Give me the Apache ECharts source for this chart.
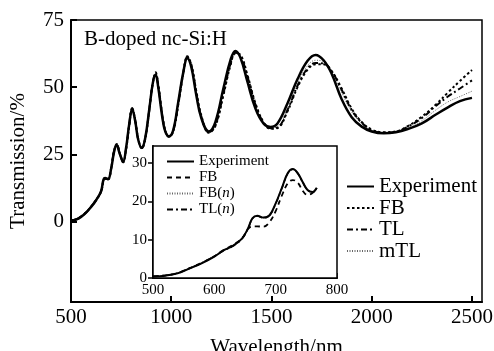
<!DOCTYPE html>
<html>
<head>
<meta charset="utf-8">
<script src="https://cdn.jsdelivr.net/npm/echarts@6/dist/echarts.min.js"></script>
<style>
  html, body { margin: 0; padding: 0; background: #fff; }
  #chart { width: 494px; height: 351px; }
</style>
</head>
<body>
<div id="chart"></div>
<script>
var font = 'Liberation Serif';

// main plot: wavelength (nm) and transmission (%)
var mainLambda = [500, 525, 550, 575, 600, 625, 650, 662, 670, 685, 700, 715, 728, 743, 760, 775, 790, 805, 820, 835,
  853, 870, 890, 908, 922, 935, 955, 970, 988, 1010, 1035, 1060, 1080, 1100, 1125, 1150, 1187, 1220, 1260, 1295,
  1320, 1345, 1380, 1420, 1460, 1495, 1530, 1580, 1630, 1680, 1720, 1760, 1800, 1850, 1900, 1950, 2000, 2060, 2120, 2180,
  2250, 2320, 2380, 2440, 2500];
var expT = [0.3, 0.7, 1.7, 3.3, 5.4, 7.9, 11.3, 15.6, 16.2, 15.8, 19.5, 26.0, 28.5, 25.2, 22.3, 27.5, 36.0, 41.8, 37.5, 30.5,
  27.4, 31.0, 41.5, 51.5, 54.6, 50.0, 39.0, 33.5, 31.7, 34.0, 44.5, 55.5, 60.8, 57.5, 47.0, 38.5, 33.5, 37.0, 49.5, 60.0,
  63.5, 61.0, 52.0, 42.0, 36.5, 35.2, 36.5, 44.0, 53.0, 59.8, 62.0, 60.0, 55.0, 45.5, 38.8, 35.3, 33.5, 32.8, 33.2, 34.4,
  36.5, 39.8, 42.5, 44.8, 46.0];
var fbT = [0.3, 0.8, 1.8, 3.4, 5.5, 8.0, 11.0, 15.0, 15.8, 15.6, 19.8, 26.5, 28.8, 25.5, 22.0, 27.0, 35.5, 42.0, 38.0, 30.8,
  27.2, 30.5, 41.0, 51.5, 55.5, 51.0, 40.0, 34.0, 31.5, 33.5, 43.5, 55.0, 61.5, 58.5, 48.5, 39.5, 33.0, 35.5, 47.0, 58.0,
  62.5, 62.0, 54.5, 44.0, 37.0, 34.5, 34.8, 41.0, 50.0, 56.5, 58.5, 58.5, 56.0, 49.5, 42.0, 37.0, 34.2, 33.2, 33.5, 35.5,
  39.0, 43.5, 48.0, 52.3, 56.4];
var tlT = [0.3, 0.8, 1.8, 3.3, 5.4, 7.9, 11.1, 15.2, 15.9, 15.7, 19.6, 26.2, 28.7, 25.4, 22.1, 27.2, 35.8, 42.2, 37.8, 30.6,
  27.3, 30.8, 41.3, 51.8, 55.2, 50.6, 39.6, 33.8, 31.6, 33.7, 43.8, 55.3, 61.2, 58.2, 48.0, 39.0, 33.2, 35.8, 47.5, 58.5,
  62.8, 61.8, 54.0, 43.5, 36.8, 34.7, 35.0, 41.5, 50.5, 57.0, 59.0, 58.8, 56.0, 49.0, 41.5, 36.8, 34.0, 33.0, 33.4, 35.3,
  38.5, 43.0, 46.5, 49.5, 52.5];
var mtlT = [0.3, 0.7, 1.7, 3.3, 5.4, 7.9, 11.2, 15.4, 16.0, 15.7, 19.5, 26.0, 28.6, 25.3, 22.2, 27.3, 35.9, 42.0, 37.7, 30.6,
  27.3, 30.9, 41.4, 51.6, 55.0, 50.4, 39.4, 33.7, 31.6, 33.8, 44.0, 55.3, 61.0, 58.0, 47.8, 38.9, 33.3, 36.0, 48.0, 59.0,
  63.0, 61.5, 53.5, 43.2, 36.8, 34.9, 35.3, 42.0, 51.5, 58.0, 60.0, 59.5, 56.0, 48.0, 40.8, 36.4, 33.9, 33.0, 33.3, 35.0,
  37.5, 41.5, 44.5, 46.5, 48.5];

// inset: short wavelength part
var insetLambda = [500, 520, 540, 560, 580, 600, 615, 630, 645, 655, 662, 670, 680, 690, 700, 710, 720, 728, 736, 745, 752, 760, 767];
var inExpT =  [0.4, 0.6, 1.2, 2.5, 3.9, 5.6, 7.2, 8.4, 10.3, 13.0, 15.6, 16.3, 15.8, 16.4, 19.5, 23.5, 27.5, 28.5, 27.4, 24.8, 23.0, 22.5, 23.6];
var inFbT =   [0.4, 0.7, 1.3, 2.6, 4.0, 5.7, 7.3, 8.6, 10.4, 12.8, 13.5, 13.5, 13.4, 14.6, 17.5, 21.5, 24.8, 25.6, 24.9, 22.6, 21.7, 22.2, 23.4];
var inFbnT =  [0.4, 0.6, 1.2, 2.5, 3.9, 5.6, 7.2, 8.5, 10.3, 12.9, 15.4, 16.1, 15.7, 16.3, 19.4, 23.4, 27.3, 28.3, 27.2, 24.7, 23.0, 22.5, 23.5];
var inTlnT =  [0.4, 0.7, 1.3, 2.6, 4.0, 5.7, 7.1, 8.3, 10.2, 12.9, 15.5, 16.2, 15.7, 16.3, 19.4, 23.4, 27.4, 28.4, 27.3, 24.7, 23.0, 22.4, 23.5];

var mainXTicks = [500, 1000, 1500, 2000, 2500];
var mainYTicks = [0, 25, 50, 75];
var insetXTicks = [500, 600, 700, 800];
var insetYTicks = [0, 10, 20, 30];

var mainLegend = ['Experiment', 'FB', 'TL', 'mTL'];
var insetLegend = ['Experiment (inset)', 'FB (inset)', 'FB(n)', 'TL(n)'];

function pairs(xs, ys) {
  var out = [];
  for (var i = 0; i < xs.length; i++) out.push([xs[i], ys[i]]);
  return out;
}

function plain(v) { return String(v); }

var myChart = echarts.init(document.getElementById('chart'));

var axisLine = { show: true, onZero: false, lineStyle: { color: '#000', width: 2 } };

function line(name, xi, data, style, z) {
  return {
    name: name, type: 'line', xAxisIndex: xi, yAxisIndex: xi, smooth: 0.4,
    symbol: 'none', showSymbol: false, z: z, data: data,
    itemStyle: { color: style.color }, lineStyle: style
  };
}

var option = {
  backgroundColor: '#fff',
  animation: false,
  title: {
    text: 'B-doped nc-Si:H',
    left: 84, top: 29, padding: 0,
    textStyle: { fontFamily: font, fontSize: 21, fontWeight: 'normal', color: '#000' }
  },
  legend: [
    {
      orient: 'vertical', left: 346, top: 176, padding: 0, z: 10,
      itemWidth: 27, itemHeight: 14, itemGap: 0.5,
      itemStyle: { opacity: 0 },
      data: mainLegend,
      textStyle: { fontFamily: font, fontSize: 21, color: '#000', lineHeight: 21 }
    },
    {
      orient: 'vertical', left: 166, top: 154, padding: 0, z: 10,
      itemWidth: 27, itemHeight: 10, itemGap: 1,
      itemStyle: { opacity: 0 },
      data: insetLegend,
      formatter: function (name) {
        if (name === 'FB(n)') return 'FB({i|n})';
        if (name === 'TL(n)') return 'TL({i|n})';
        return name.replace(' (inset)', '');
      },
      textStyle: {
        fontFamily: font, fontSize: 15, color: '#000', lineHeight: 15,
        rich: { i: { fontFamily: font, fontSize: 15, fontStyle: 'italic', color: '#000' } }
      }
    }
  ],
  grid: [
    { left: 71, top: 20, right: 12, bottom: 49, show: true, borderColor: '#000', borderWidth: 1.5, outerBoundsMode: 'none' },
    { left: 153, top: 146, right: 157, bottom: 73, show: true, borderColor: '#000', borderWidth: 1.5, backgroundColor: '#fff', z: 5, outerBoundsMode: 'none' }
  ],
  xAxis: [
    {
      type: 'value', gridIndex: 0, min: 500, max: 2550,
      name: 'Wavelength/nm', nameLocation: 'middle', nameGap: 35,
      nameTextStyle: { fontFamily: font, fontSize: 21, color: '#000' },
      axisLine: axisLine,
      axisTick: { show: true, inside: true, length: 6, customValues: mainXTicks, lineStyle: { color: '#000', width: 2 } },
      axisLabel: { customValues: mainXTicks, formatter: plain, fontFamily: font, fontSize: 21, color: '#000', margin: 5 },
      splitLine: { show: false }
    },
    {
      type: 'value', gridIndex: 1, min: 500, max: 800,
      axisLine: axisLine,
      axisTick: { show: true, inside: true, length: 5, customValues: insetXTicks, lineStyle: { color: '#000', width: 1.5 } },
      axisLabel: { customValues: insetXTicks, formatter: plain, fontFamily: font, fontSize: 15, color: '#000', margin: 5 },
      splitLine: { show: false }
    }
  ],
  yAxis: [
    {
      type: 'value', gridIndex: 0, min: -30, max: 75,
      name: 'Transmission/%', nameLocation: 'middle', nameGap: 42,
      nameTextStyle: { fontFamily: font, fontSize: 21, color: '#000' },
      axisLine: axisLine,
      axisTick: { show: true, inside: true, length: 6, customValues: mainYTicks, lineStyle: { color: '#000', width: 2 } },
      axisLabel: { customValues: mainYTicks, formatter: plain, fontFamily: font, fontSize: 21, color: '#000', margin: 7 },
      splitLine: { show: false }
    },
    {
      type: 'value', gridIndex: 1, min: 0, max: 34.5,
      axisLine: axisLine,
      axisTick: { show: true, inside: false, length: 5, customValues: insetYTicks, lineStyle: { color: '#000', width: 1.5 } },
      axisLabel: { customValues: insetYTicks, formatter: plain, fontFamily: font, fontSize: 15, color: '#000', margin: 6 },
      splitLine: { show: false }
    }
  ],
  series: [
    line('mTL', 0, pairs(mainLambda, mtlT), { color: '#666', width: 1, type: [1, 1.5] }, 2),
    line('TL', 0, pairs(mainLambda, tlT), { color: '#000', width: 2, type: [6, 3, 2, 3] }, 2),
    line('FB', 0, pairs(mainLambda, fbT), { color: '#000', width: 2, type: [2.5, 2.5] }, 2),
    line('Experiment', 0, pairs(mainLambda, expT), { color: '#000', width: 2.5 }, 3),

    line('FB(n)', 1, pairs(insetLambda, inFbnT), { color: '#666', width: 1, type: [1, 1.5] }, 6),
    line('TL(n)', 1, pairs(insetLambda, inTlnT), { color: '#000', width: 1.5, type: [6, 3, 2, 3] }, 6),
    line('FB (inset)', 1, pairs(insetLambda, inFbT), { color: '#000', width: 1.8, type: [5, 4] }, 6),
    line('Experiment (inset)', 1, pairs(insetLambda, inExpT), { color: '#000', width: 2 }, 7)
  ]
};

myChart.setOption(option);
</script>
</body>
</html>
